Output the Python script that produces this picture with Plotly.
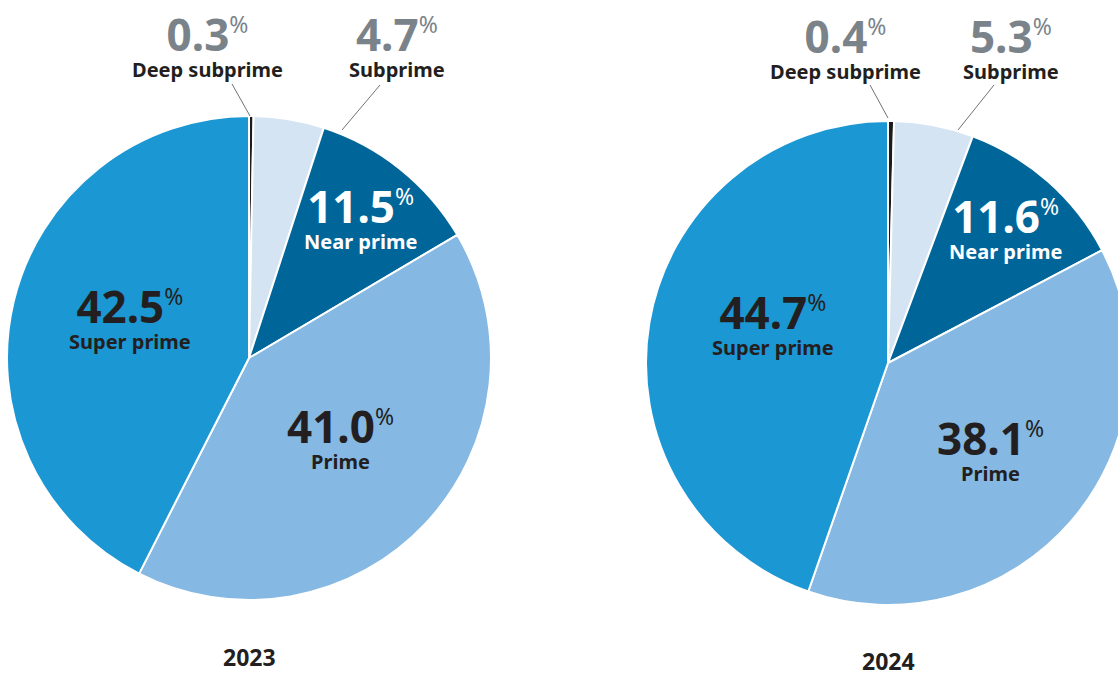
import plotly.graph_objects as go

# Credit-tier shares of originations, by year
categories = ["Deep subprime", "Subprime", "Near prime", "Prime", "Super prime"]
share_2023 = [0.3, 4.7, 11.5, 41.0, 42.5]
share_2024 = [0.4, 5.3, 11.6, 38.1, 44.7]
years = ["2023", "2024"]

colors = ["#1c1c1c", "#d4e4f3", "#006599", "#85b8e2", "#1b97d4"]

W, H = 1140, 674
FONT = "Noto Sans"
INK = "#231f20"
GREY = "#7b838a"


def px(x):
    return x / W


def py(y):
    return 1 - y / H


def narrow(s):
    return f"<span style='font-stretch:condensed'>{s}</span>"


fig = go.Figure()

# pie boxes in pixels: (x0, x1, y0, y1)
boxes = [(7, 491, 116, 600), (646, 1130, 121, 605)]
for vals, (x0, x1, y0, y1) in zip([share_2023, share_2024], boxes):
    fig.add_trace(go.Pie(
        labels=categories,
        values=vals,
        sort=False,
        direction="clockwise",
        rotation=0,
        marker=dict(colors=colors, line=dict(color="white", width=2)),
        textinfo="none",
        hoverinfo="skip",
        showlegend=False,
        domain=dict(x=[px(x0), px(x1)], y=[py(y1), py(y0)]),
    ))


def block(v, name, num_color, name_color):
    # big bold value with a lighter raised percent sign, tier name below
    num = (f"<span style='font-size:44px;font-stretch:condensed;color:{num_color}'>"
           f"{v:.1f}<sup><span style='font-size:23px;font-weight:normal'>%</span>"
           f"</sup></span>")
    return num + "<br>" + narrow(name)


annotations = []

# baseline of the value line for each label, per year, in category order
label_pos = [
    [(207, 50), (397, 50), (360, 222), (340, 442), (130, 322)],
    [(845, 52), (1011, 52), (1005, 232), (990, 454), (773, 329)],
]
for vals, pos in zip([share_2023, share_2024], label_pos):
    for i, (v, name) in enumerate(zip(vals, categories)):
        x, base = pos[i]
        if i < 2:
            nc, tc = GREY, INK
        elif i == 2:
            nc, tc = "white", "white"
        else:
            nc, tc = INK, INK
        annotations.append(dict(
            x=px(x), y=py(base - 7), xref="paper", yref="paper",
            showarrow=False, text=block(v, name, nc, tc),
            xanchor="center", yanchor="middle", align="center",
            font=dict(family=FONT, size=20, color=tc, weight="bold"),
        ))

# year captions
for yr, (x, y) in zip(years, [(249, 657), (888, 661)]):
    annotations.append(dict(
        x=px(x), y=py(y), xref="paper", yref="paper", showarrow=False,
        text=narrow(yr), xanchor="center", yanchor="middle", borderpad=0,
        font=dict(family=FONT, size=23, color=INK, weight="bold"),
    ))

# leader lines from the small-slice labels to the rim
leaders = [
    ((232, 84), (250, 116)), ((380, 85), (342, 130)),
    ((870, 85), (888, 118)), ((994, 85), (958, 130)),
]
shapes = []
for (xa, ya), (xb, yb) in leaders:
    shapes.append(dict(
        type="line", xref="paper", yref="paper",
        x0=px(xa), y0=py(ya), x1=px(xb), y1=py(yb),
        line=dict(color="#6d7378", width=1),
    ))

fig.update_layout(
    width=W, height=H,
    margin=dict(l=0, r=0, t=0, b=0),
    paper_bgcolor="white",
    plot_bgcolor="white",
    annotations=annotations,
    shapes=shapes,
)

fig.write_html(
    "out.html",
    post_script="document.documentElement.style.overflow='hidden';"
                "document.body.style.overflow='hidden';"
                "document.body.style.margin='0';",
)
